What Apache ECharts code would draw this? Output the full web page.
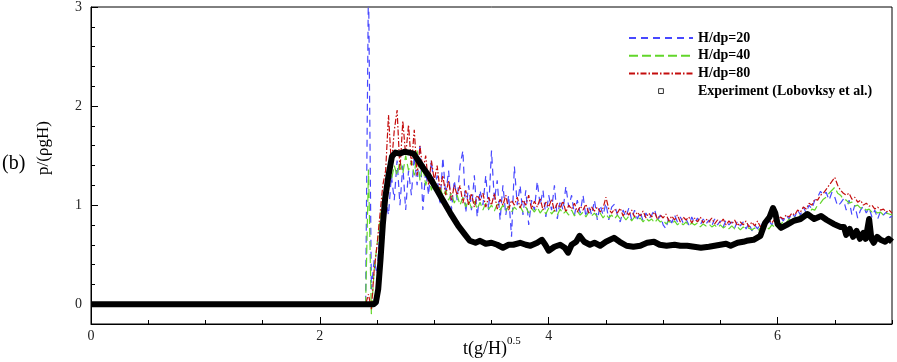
<!DOCTYPE html>
<html>
<head>
<meta charset="utf-8">
<script src="https://cdn.jsdelivr.net/npm/echarts@6/dist/echarts.min.js"></script>
<style>
  html, body { margin: 0; padding: 0; background: #fff; }
  #chart { width: 897px; height: 362px; }
</style>
</head>
<body>
<div id="chart"></div>
<script>
var seriesNames = ['H/dp=20', 'H/dp=40', 'H/dp=80', 'Experiment (Lobovksy et al.)'];
var xTicks = [0, 2, 4, 6];
var yTicks = [0, 1, 2, 3];

// simulations sampled from t = 2.4 every 0.025 (one row = 0.2)
var simStart = 2.4, simStep = 0.025;

var p20 = [
  0, 3.3, 0.15, 0.45, 0.3, 0.75, 0.55, 1.05,      // 2.4
  0.9, 1.3, 1.05, 1.45, 1.0, 1.4, 0.95, 1.35,      // 2.6
  1.1, 1.5, 1.2, 1.62, 0.95, 1.35, 1.1, 1.45,      // 2.8
  1.15, 1.3, 1.0, 1.48, 1.1, 1.35, 0.95, 1.25,     // 3.0
  1.05, 1.4, 1.55, 0.92, 1.2, 0.95, 1.3, 0.88,     // 3.2
  1.15, 1.0, 1.3, 0.95, 1.55, 1.05, 1.25, 0.85,    // 3.4
  1.2, 0.9, 1.1, 0.68, 1.39, 1.0, 1.2, 0.9,        // 3.6
  1.15, 0.8, 1.05, 0.95, 1.24, 1.0, 1.15, 0.88,    // 3.8
  1.1, 0.95, 1.2, 0.86, 1.05, 0.95, 1.19, 0.98,    // 4.0
  1.1, 0.9, 1.05, 0.92, 1.1, 0.88, 1.0, 0.9,       // 4.2
  1.05, 0.85, 1.0, 0.9, 1.02, 0.85, 0.98, 1.01,    // 4.4
  0.9, 0.83, 0.95, 0.88, 0.97, 0.85, 0.95, 0.86,   // 4.6
  0.93, 0.84, 0.92, 0.86, 0.9, 0.96, 0.84, 0.9,    // 4.8
  0.8, 0.76, 0.88, 0.82, 0.9, 0.83, 0.88, 0.82,    // 5.0
  0.86, 0.8, 0.88, 0.82, 0.87, 0.8, 0.86, 0.81,    // 5.2
  0.85, 0.79, 0.86, 0.8, 0.84, 0.78, 0.85, 0.8,    // 5.4
  0.83, 0.77, 0.84, 0.79, 0.83, 0.76, 0.82, 0.74,  // 5.6
  0.8, 0.76, 0.82, 0.78, 0.8, 0.84, 0.8, 0.86,     // 5.8
  0.82, 0.88, 0.84, 0.9, 0.86, 0.92, 0.88, 0.95,   // 6.0
  0.9, 0.98, 0.92, 1.0, 0.96, 1.05, 1.08, 1.14,    // 6.2
  1.1, 1.13, 1.05, 1.13, 1.08, 0.99, 1.02, 1.06,   // 6.4
  0.95, 1.05, 0.9, 1.0, 0.87, 0.95, 0.99, 0.92,    // 6.6
  0.97, 0.88, 0.95, 0.86, 0.94, 0.9, 0.93, 0.87,   // 6.8
  0.89                                             // 7.0
];

var p40 = [
  0, 1.36, -0.1, 0.35, 0.6, 0.85, 1.05, 1.2,       // 2.4
  1.3, 1.25, 1.4, 1.3, 1.45, 1.32, 1.5, 1.35,      // 2.6
  1.45, 1.3, 1.55, 1.25, 1.4, 1.2, 1.3, 1.15,      // 2.8
  1.25, 1.12, 1.2, 1.08, 1.15, 1.05, 1.12, 1.02,   // 3.0
  1.1, 1.0, 1.08, 0.98, 1.05, 0.97, 1.04, 0.96,    // 3.2
  1.03, 0.95, 1.02, 0.96, 1.0, 0.94, 1.01, 0.95,   // 3.4
  1.0, 0.94, 0.99, 0.93, 0.98, 0.95, 0.99, 0.93,   // 3.6
  0.98, 0.92, 0.97, 0.93, 0.98, 0.92, 0.96, 0.91,  // 3.8
  0.97, 0.91, 0.95, 0.9, 0.96, 0.91, 0.94, 0.9,    // 4.0
  0.95, 0.89, 0.94, 0.9, 0.93, 0.88, 0.93, 0.89,   // 4.2
  0.92, 0.88, 0.92, 0.87, 0.91, 0.87, 0.9, 0.86,   // 4.4
  0.9, 0.86, 0.89, 0.85, 0.89, 0.84, 0.88, 0.85,  // 4.6
  0.87, 0.83, 0.87, 0.84, 0.86, 0.82, 0.86, 0.83,  // 4.8
  0.85, 0.81, 0.84, 0.81, 0.84, 0.8, 0.83, 0.8,    // 5.0
  0.83, 0.79, 0.82, 0.8, 0.82, 0.78, 0.81, 0.79,   // 5.2
  0.81, 0.78, 0.8, 0.77, 0.8, 0.77, 0.79, 0.76,    // 5.4
  0.79, 0.76, 0.78, 0.75, 0.78, 0.76, 0.77, 0.75,  // 5.6
  0.77, 0.74, 0.77, 0.75, 0.78, 0.76, 0.8, 0.78,   // 5.8
  0.82, 0.8, 0.84, 0.82, 0.86, 0.84, 0.88, 0.86,   // 6.0
  0.9, 0.88, 0.93, 0.91, 0.96, 0.95, 1.0, 1.02,    // 6.2
  1.06, 1.08, 1.12, 1.15, 1.18, 1.12, 1.1, 1.06,   // 6.4
  1.05, 1.02, 1.03, 0.99, 1.0, 0.97, 0.98, 0.95,   // 6.6
  0.96, 0.93, 0.94, 0.92, 0.93, 0.9, 0.92, 0.91,   // 6.8
  0.9                                              // 7.0
];

var p80 = [
  0, 0.1, -0.05, 0.35, 0.6, 0.9, 1.2, 1.35,        // 2.4
  1.91, 1.4, 1.75, 1.96, 1.35, 1.85, 1.5, 1.81,    // 2.6
  1.4, 1.76, 1.3, 1.6, 1.35, 1.5, 1.2, 1.45,       // 2.8
  1.25, 1.4, 1.15, 1.3, 1.1, 1.25, 1.05, 1.2,      // 3.0
  1.1, 1.2, 1.02, 1.15, 1.0, 1.12, 0.98, 1.1,      // 3.2
  1.05, 1.12, 0.98, 1.08, 1.0, 1.12, 0.96, 1.06,   // 3.4
  1.0, 1.1, 0.95, 1.05, 1.0, 1.08, 0.97, 1.05,     // 3.6
  1.0, 1.1, 0.96, 1.04, 0.98, 1.07, 0.95, 1.03,    // 3.8
  0.98, 1.06, 0.94, 1.02, 0.97, 1.04, 0.93, 1.0,   // 4.0
  0.96, 1.02, 0.93, 0.99, 0.95, 1.01, 0.92, 0.98,  // 4.2
  0.94, 0.98, 0.93, 0.97, 1.08, 0.96, 0.92, 0.96,  // 4.4
  0.92, 0.97, 0.89, 0.94, 0.9, 0.95, 0.88, 0.93,   // 4.6
  0.89, 0.94, 0.87, 0.92, 0.88, 0.93, 0.86, 0.9,   // 4.8
  0.87, 0.91, 0.84, 0.89, 0.85, 0.9, 0.83, 0.88,   // 5.0
  0.85, 0.88, 0.82, 0.87, 0.83, 0.88, 0.82, 0.86,  // 5.2
  0.83, 0.87, 0.81, 0.85, 0.82, 0.86, 0.8, 0.84,   // 5.4
  0.81, 0.85, 0.79, 0.83, 0.8, 0.84, 0.78, 0.83,   // 5.6
  0.79, 0.84, 0.78, 0.82, 0.8, 0.85, 0.82, 0.86,   // 5.8
  0.84, 0.88, 0.86, 0.9, 0.88, 0.92, 0.9, 0.95,    // 6.0
  0.93, 0.98, 0.96, 1.02, 1.0, 1.06, 1.05, 1.1,    // 6.2
  1.12, 1.16, 1.2, 1.24, 1.28, 1.2, 1.15, 1.12,    // 6.4
  1.1, 1.12, 1.06, 1.08, 1.03, 1.05, 1.0, 1.02,    // 6.6
  0.99, 1.0, 0.96, 0.98, 0.95, 0.96, 0.93, 0.95,   // 6.8
  0.92                                             // 7.0
];

// experiment [t, p]
var expData = [
  [0, 0], [2.47, 0], [2.49, 0.02], [2.51, 0.15], [2.53, 0.45], [2.55, 0.8], [2.57, 1.06],
  [2.6, 1.3], [2.63, 1.49], [2.66, 1.53], [2.7, 1.52], [2.74, 1.54], [2.78, 1.53], [2.82, 1.52],
  [2.86, 1.45], [2.9, 1.38], [2.95, 1.3], [3.0, 1.2], [3.07, 1.06], [3.14, 0.92], [3.21, 0.79],
  [3.27, 0.7], [3.31, 0.64], [3.36, 0.62], [3.4, 0.64], [3.45, 0.61], [3.5, 0.62], [3.55, 0.6],
  [3.6, 0.57], [3.65, 0.6], [3.69, 0.6], [3.75, 0.62], [3.8, 0.6], [3.84, 0.59], [3.9, 0.62],
  [3.94, 0.65], [3.97, 0.6], [4.0, 0.54], [4.05, 0.58], [4.1, 0.6], [4.14, 0.57], [4.17, 0.52],
  [4.2, 0.6], [4.24, 0.63], [4.27, 0.69], [4.31, 0.63], [4.36, 0.6], [4.4, 0.62], [4.45, 0.59],
  [4.5, 0.63], [4.57, 0.67], [4.62, 0.63], [4.68, 0.59], [4.74, 0.58], [4.8, 0.59], [4.86, 0.62],
  [4.92, 0.63], [4.97, 0.6], [5.03, 0.59], [5.1, 0.6], [5.15, 0.59], [5.21, 0.59], [5.27, 0.58],
  [5.33, 0.57], [5.4, 0.58], [5.45, 0.59], [5.5, 0.6], [5.55, 0.61], [5.59, 0.59], [5.65, 0.62],
  [5.7, 0.63], [5.73, 0.64], [5.79, 0.65], [5.85, 0.69], [5.89, 0.82], [5.93, 0.88], [5.96, 0.97],
  [5.98, 0.92], [6.0, 0.81], [6.03, 0.77], [6.08, 0.8], [6.14, 0.84], [6.2, 0.86], [6.26, 0.91],
  [6.32, 0.86], [6.38, 0.89], [6.43, 0.85], [6.49, 0.81], [6.55, 0.78], [6.58, 0.78], [6.6, 0.7],
  [6.63, 0.76], [6.66, 0.68], [6.69, 0.74], [6.72, 0.66], [6.75, 0.72], [6.77, 0.66], [6.8, 0.86],
  [6.82, 0.66], [6.84, 0.62], [6.87, 0.68], [6.9, 0.65], [6.94, 0.63], [6.97, 0.66], [7.0, 0.63]
];

var serif = 'Liberation Serif';

function simPairs(arr) {
  var out = [[0, 0]];
  for (var i = 0; i < arr.length; i++) {
    out.push([+(simStart + i * simStep).toFixed(3), arr[i]]);
  }
  return out;
}

function simLine(name, data, color, dash) {
  return {
    name: name,
    type: 'line',
    data: simPairs(data),
    symbol: 'none',
    silent: true,
    lineStyle: { color: color, width: 1.2, type: dash },
    itemStyle: { color: color }
  };
}

var chart = echarts.init(document.getElementById('chart'));
chart.setOption({
  animation: false,
  backgroundColor: '#fff',
  grid: {
    left: 91, right: 5, top: 7, bottom: 38,
    show: true, borderColor: '#000', borderWidth: 1
  },
  legend: {
    orient: 'vertical',
    left: 623,
    top: 26,
    itemWidth: 64,
    itemHeight: 6,
    itemGap: 3.7,
    selectedMode: false,
    textStyle: { fontFamily: serif, fontWeight: 'bold', fontSize: 14, color: '#000', lineHeight: 14 },
    data: [
      { name: seriesNames[0], itemStyle: { opacity: 0 } },
      { name: seriesNames[1], itemStyle: { opacity: 0 } },
      { name: seriesNames[2], itemStyle: { opacity: 0 } },
      { name: seriesNames[3], lineStyle: { opacity: 0 }, itemStyle: { color: '#fff', borderColor: '#333', borderWidth: 1 } }
    ]
  },
  xAxis: [{
    type: 'value', min: 0, max: 7, position: 'bottom',
    axisLine: { onZero: false, lineStyle: { color: '#000', width: 1 } },
    axisTick: { inside: true, length: 7, customValues: xTicks, lineStyle: { color: '#000' } },
    axisLabel: { customValues: xTicks, color: '#222', fontFamily: serif, fontSize: 14, margin: 5 },
    splitLine: { show: false }
  }, {
    type: 'value', min: 0, max: 7, interval: 0.5, position: 'bottom',
    axisLine: { show: false, onZero: false },
    axisTick: { inside: true, length: 4, lineStyle: { color: '#000' } },
    axisLabel: { show: false },
    splitLine: { show: false }
  }],
  yAxis: [{
    type: 'value', min: -0.2, max: 3, position: 'left',
    axisLine: { show: true, onZero: false, lineStyle: { color: '#000', width: 1 } },
    axisTick: { show: true, inside: true, length: 7, customValues: yTicks, lineStyle: { color: '#000' } },
    axisLabel: { customValues: yTicks, color: '#222', fontFamily: serif, fontSize: 14, margin: 9 },
    splitLine: { show: false }
  }, {
    type: 'value', min: -0.2, max: 3, interval: 0.2, position: 'left',
    axisLine: { show: false, onZero: false },
    axisTick: { show: true, inside: true, length: 4, lineStyle: { color: '#000' } },
    axisLabel: { show: false },
    splitLine: { show: false }
  }],
  graphic: [
    { type: 'text', x: 2, y: 164, style: { text: '(b)', fontFamily: serif, fontSize: 20, fill: '#000', verticalAlign: 'middle' } },
    { type: 'text', x: 44, y: 148, rotation: Math.PI / 2, style: { text: 'p/(ρgH)', fontFamily: serif, fontSize: 17, fill: '#000', align: 'center', verticalAlign: 'middle' } },
    { type: 'text', x: 463, y: 349, style: { text: 't(g/H)', fontFamily: serif, fontSize: 18, fill: '#000', verticalAlign: 'middle' } },
    { type: 'text', x: 507, y: 336, style: { text: '0.5', fontFamily: serif, fontSize: 11, fill: '#000', verticalAlign: 'top' } }
  ],
  series: [
    simLine(seriesNames[0], p20, '#4848ff', [7, 5]),
    simLine(seriesNames[1], p40, '#62d62a', [9, 4]),
    simLine(seriesNames[2], p80, '#c40d0d', [6, 2, 1.5, 2]),
    {
      name: seriesNames[3],
      type: 'line',
      data: expData,
      symbol: 'rect',
      symbolSize: 5,
      showSymbol: false,
      silent: true,
      lineStyle: { color: '#000', width: 6, join: 'round' },
      itemStyle: { color: '#000' }
    }
  ]
});
</script>
</body>
</html>
